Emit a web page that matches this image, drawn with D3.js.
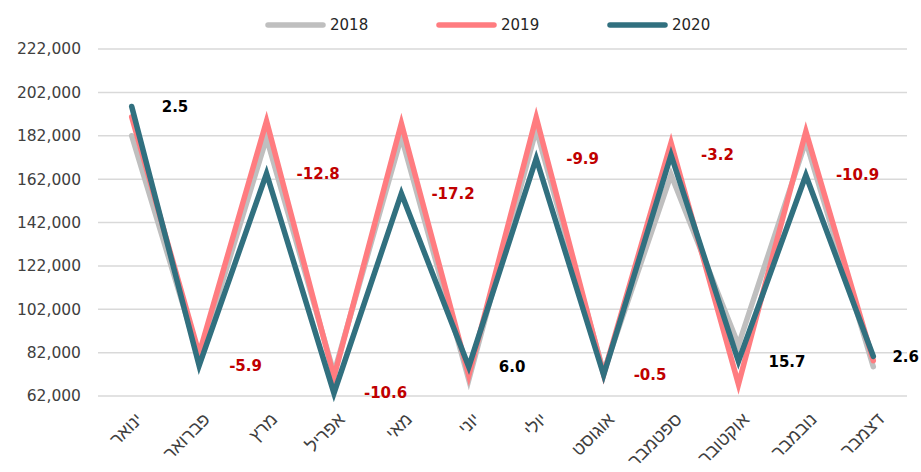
<!DOCTYPE html>
<html>
<head>
<meta charset="utf-8">
<script src="https://cdn.jsdelivr.net/npm/d3@7"></script>
<style>
  html, body { margin: 0; padding: 0; background: #fff; }
  svg { display: block; }
</style>
</head>
<body>
<svg id="chart" width="921" height="472"></svg>
<script>
const months = ["ינואר","פברואר","מרץ","אפריל","מאי","יוני","יולי","אוגוסט","ספטמבר","אוקטובר","נובמבר","דצמבר"];
const seriesNames = ["2018","2019","2020"];
const values2018 = [182000, 79500, 181000, 72500, 181500, 69500, 185000, 73000, 164000, 85500, 179500, 75500];
const values2019 = [190700, 81500, 188800, 70800, 187700, 71500, 190500, 72000, 178800, 67400, 184000, 78300];
const values2020 = [195500, 76000, 164600, 63300, 155400, 75500, 171500, 71700, 173100, 78000, 163800, 80300];
const changeLabels = ["2.5","-5.9","-12.8","-10.6","-17.2","6.0","-9.9","-0.5","-3.2","15.7","-10.9","2.6"];
const yTicks = [62000, 82000, 102000, 122000, 142000, 162000, 182000, 202000, 222000];
const colors = ["#bfbfbf", "#ff7c80", "#31707f"];

(function () {
const series = [values2018, values2019, values2020];
const svg = d3.select("#chart");
const W = 921;
const pLeft = 98, pRight = 907, pTop = 49, pBottom = 396;

const x = d3.scalePoint().domain(months).range([pLeft, pRight]).padding(0.5);
const y = d3.scaleLinear().domain([62000, 222000]).range([pBottom, pTop]);

// gridlines
svg.append("g").selectAll("line").data(yTicks).join("line")
  .attr("x1", pLeft).attr("x2", pRight)
  .attr("y1", d => y(d)).attr("y2", d => y(d))
  .attr("stroke", "#d9d9d9").attr("stroke-width", 1.5);

// y axis labels
const yAxis = d3.axisLeft(y).tickValues(yTicks).tickSize(0).tickPadding(0)
  .tickFormat(d3.format(","));
const yg = svg.append("g").attr("transform", `translate(81,0)`).call(yAxis);
yg.select(".domain").remove();
yg.selectAll("text")
  .attr("font-family", "DejaVu Sans, Verdana, sans-serif")
  .attr("font-size", 15.5).attr("fill", "#404040");

// x axis labels
const xAxis = d3.axisBottom(x).tickSize(0).tickPadding(0);
const xg = svg.append("g").attr("transform", `translate(0,${pBottom})`).call(xAxis);
xg.select(".domain").remove();
xg.selectAll("text")
  .attr("font-family", "Liberation Sans, Arial, sans-serif")
  .attr("font-size", 18).attr("fill", "#404040")
  .attr("text-anchor", "end")
  .attr("dy", "0.35em")
  .attr("transform", "translate(7,20) rotate(-45)")
  .attr("x", 0).attr("y", 0);

// lines
const line = d3.line().x((d, i) => x(months[i])).y(d => y(d)).curve(d3.curveLinear);
svg.append("g").selectAll("path").data(series).join("path")
  .attr("d", d => line(d))
  .attr("fill", "none")
  .attr("stroke", (d, i) => colors[i])
  .attr("stroke-width", 5.5)
  .attr("stroke-linejoin", "miter")
  .attr("stroke-linecap", "round");

// data labels (change 2020 vs 2019)
const lbl = svg.append("g").selectAll("text").data(changeLabels).join("text")
  .attr("x", (d, i) => x(months[i]) + 30)
  .attr("y", (d, i) => y(values2020[i]))
  .attr("dy", "0.35em")
  .attr("font-family", "DejaVu Sans, Verdana, sans-serif")
  .attr("font-weight", "bold")
  .attr("font-size", 15)
  .attr("fill", d => d.startsWith("-") ? "#c00000" : "#000000")
  .text(d => d);
lbl.each(function () {
  const b = this.getBBox();
  if (b.x + b.width > W - 2) d3.select(this).attr("x", W - 2 - b.width);
});

// legend
const lg = svg.append("g").selectAll("g").data(seriesNames).join("g")
  .attr("transform", (d, i) => `translate(${268 + i * 171},25)`);
lg.append("line").attr("x1", 0).attr("x2", 55).attr("y1", 0).attr("y2", 0)
  .attr("stroke", (d, i) => colors[i]).attr("stroke-width", 5.5).attr("stroke-linecap", "round");
lg.append("text").attr("x", 62).attr("y", 0).attr("dy", "0.35em")
  .attr("font-family", "DejaVu Sans, Verdana, sans-serif")
  .attr("font-size", 15).attr("fill", "#262626")
  .text(d => d);
})();
</script>
</body>
</html>
